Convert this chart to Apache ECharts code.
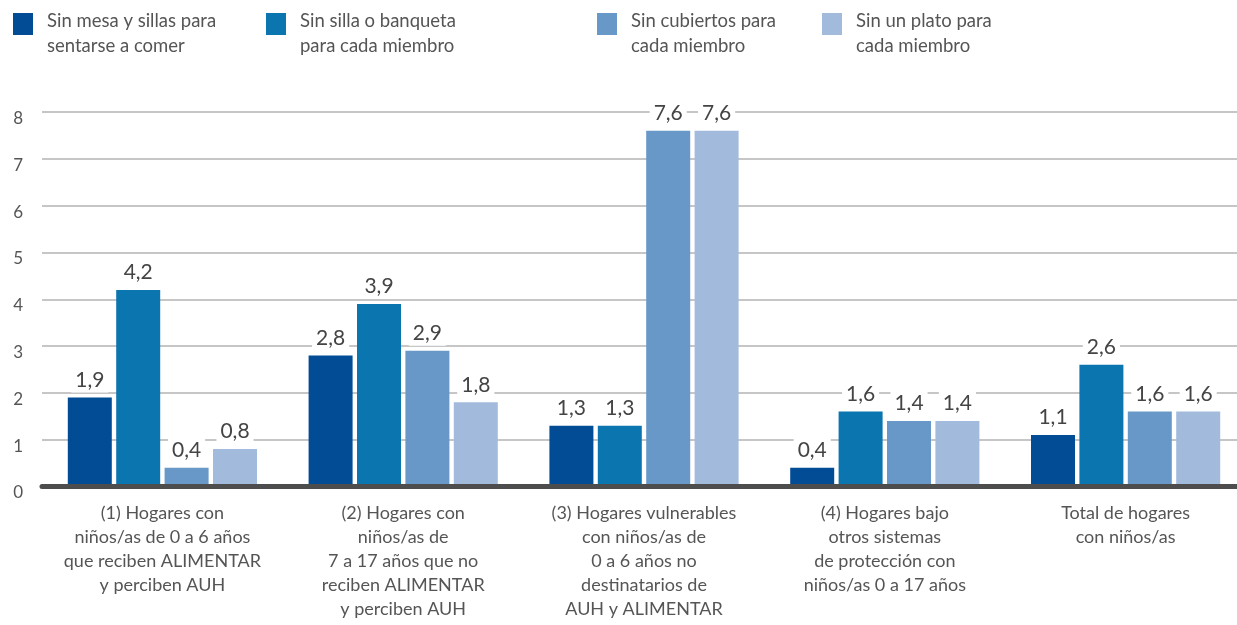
<!DOCTYPE html>
<html>
<head>
<meta charset="utf-8">
<script src="https://cdn.jsdelivr.net/npm/echarts@6/dist/echarts.min.js"></script>
<style>
  html, body { margin: 0; padding: 0; background: #fff; }
  #chart { width: 1237px; height: 625px; }
</style>
</head>
<body>
<div id="chart"></div>
<script>
const categories = [
  '(1) Hogares con\nniños/as de 0 a 6 años\nque reciben ALIMENTAR\ny perciben AUH',
  '(2) Hogares con\nniños/as de\n7 a 17 años que no\nreciben ALIMENTAR\ny perciben AUH',
  '(3) Hogares vulnerables\ncon niños/as de\n0 a 6 años no\ndestinatarios de\nAUH y ALIMENTAR',
  '(4) Hogares bajo\notros sistemas\nde protección con\nniños/as 0 a 17 años',
  'Total de hogares\ncon niños/as'
]
const seriesNames = [
  'Sin mesa y sillas para\nsentarse a comer',
  'Sin silla o banqueta\npara cada miembro',
  'Sin cubiertos para\ncada miembro',
  'Sin un plato para\ncada miembro'
]
const sinMesa = [1.9, 2.8, 1.3, 0.4, 1.1]
const sinSilla = [4.2, 3.9, 1.3, 1.6, 2.6]
const sinCubiertos = [0.4, 2.9, 7.6, 1.4, 1.6]
const sinPlato = [0.8, 1.8, 7.6, 1.4, 1.6]
const yTicks = [0, 8, 1]  // min, max, interval

const colors = ['#024c96', '#0b75b0', '#6898c8', '#a2bbdc']
const legendLeft = [13, 266, 597, 822]
const font = 'Lato'

const chart = echarts.init(document.getElementById('chart'))

// spacer line on top pushes the two text lines below the icon centre
const legends = seriesNames.map((name, i) => ({
  data: [name],
  left: legendLeft[i],
  top: -6,
  padding: 0,
  icon: 'rect',
  itemWidth: 20,
  itemHeight: 22,
  selectedMode: false,
  formatter: (n) => '{s| }\n' + n.split('\n').map(l => '{t|' + l + '}').join('\n'),
  textStyle: {
    padding: [0, 0, 0, 9],
    rich: {
      s: { fontSize: 10, lineHeight: 19 },
      t: { fontFamily: font, fontSize: 18.5, lineHeight: 25, color: '#555' }
    }
  }
}))

const makeSeries = (name, data, i) => ({
  name: name,
  type: 'bar',
  data: data,
  barWidth: 44,
  barGap: '10%',
  itemStyle: { color: colors[i] },
  label: {
    show: true,
    position: 'top',
    distance: 5,
    fontFamily: font,
    fontSize: 21,
    color: '#444',
    backgroundColor: '#fff',
    padding: [2, 4],
    formatter: (p) => p.value.toFixed(1).replace('.', ',')
  }
})

const option = {
  animation: false,
  color: colors,
  legend: legends,
  grid: {
    left: 42, width: 1204, top: 112, bottom: 138.5,
    containLabel: false, outerBoundsMode: 'none'
  },
  xAxis: {
    type: 'category',
    data: categories,
    z: 3,
    axisTick: { show: false },
    axisLine: { lineStyle: { color: '#4d4d4d', width: 5 } },
    axisLabel: {
      interval: 0,
      margin: 15,
      fontFamily: font,
      fontSize: 18,
      lineHeight: 24,
      color: '#555',
      verticalAlign: 'top'
    }
  },
  yAxis: {
    type: 'value',
    min: yTicks[0],
    max: yTicks[1],
    interval: yTicks[2],
    axisLine: { show: false },
    axisTick: { show: false },
    splitLine: { lineStyle: { color: '#c6c6c6', width: 2 } },
    axisLabel: {
      margin: 19,
      fontFamily: font,
      fontSize: 17,
      lineHeight: 13,
      color: '#555',
      verticalAlign: 'top'
    }
  },
  series: [
    makeSeries(seriesNames[0], sinMesa, 0),
    makeSeries(seriesNames[1], sinSilla, 1),
    makeSeries(seriesNames[2], sinCubiertos, 2),
    makeSeries(seriesNames[3], sinPlato, 3)
  ]
}

chart.setOption(option)
</script>
</body>
</html>
